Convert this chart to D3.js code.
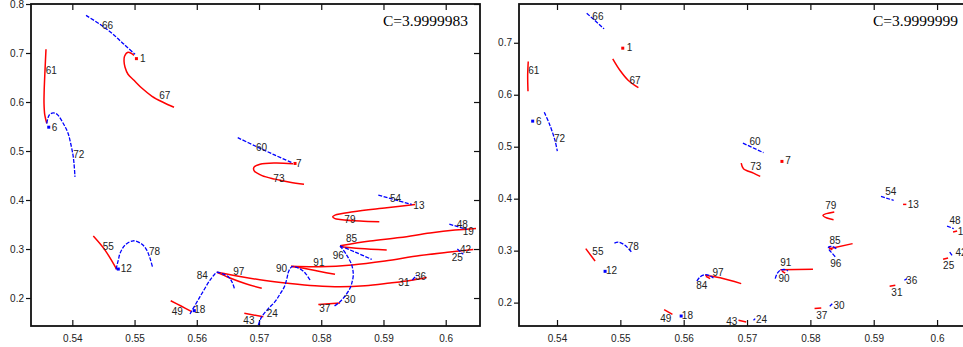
<!DOCTYPE html>
<html><head><meta charset="utf-8">
<script src="https://cdn.jsdelivr.net/npm/d3@7"></script>
<style>body{margin:0;background:#fff}svg{display:block}</style>
</head><body>
<svg id="chart" width="963" height="347"></svg>
<script>
// ---------- data ----------
const xTickValues = [0.54, 0.55, 0.56, 0.57, 0.58, 0.59, 0.60];
const yTicksLeft = [0.2, 0.3, 0.4, 0.5, 0.6, 0.7, 0.8];
const yTicksRight = [0.2, 0.3, 0.4, 0.5, 0.6, 0.7];
const titles = ["C=3.9999983", "C=3.9999999"];

// left panel (C=3.9999983)
const leftRed = [
  [[0.54991,0.6953],[0.54895,0.7014],[0.54839,0.6933],[0.54831,0.6831],[0.54847,0.6708],[0.54895,0.6566],[0.54991,0.6443],[0.5512,0.628],[0.55281,0.6117],[0.55457,0.5995],[0.55634,0.5893]],
  [[0.53577,0.7075],[0.53561,0.6647],[0.53548,0.624],[0.53545,0.5975],[0.53558,0.573],[0.53589,0.5567]],
  [[0.57546,0.4742],[0.57257,0.4756],[0.57016,0.4731],[0.5692,0.467],[0.5692,0.4599],[0.57048,0.4497],[0.57257,0.4426],[0.57498,0.4364],[0.57723,0.4324]],
  [[0.54337,0.3264],[0.54525,0.2978],[0.54713,0.2585]],
  [[0.55581,0.1945],[0.55747,0.1837],[0.55919,0.1721]],
  [[0.56325,0.2524],[0.56534,0.2408],[0.56775,0.2296],[0.57044,0.2198]],
  [[0.56325,0.2524],[0.56695,0.2438],[0.57097,0.2357],[0.57498,0.2296],[0.579,0.2249],[0.58302,0.2228],[0.58703,0.2249],[0.59105,0.2306],[0.59427,0.2357],[0.59695,0.2418]],
  [[0.56764,0.1688],[0.57069,0.1619]],
  [[0.57514,0.2642],[0.57739,0.2601],[0.5798,0.254],[0.58221,0.2483]],
  [[0.57514,0.2646],[0.5798,0.2638],[0.58495,0.2673],[0.59025,0.2754],[0.59587,0.2866],[0.60069,0.2938],[0.60444,0.2989]],
  [[0.57953,0.1868],[0.58302,0.1898]],
  [[0.58302,0.3066],[0.58784,0.3162],[0.59266,0.3233],[0.59748,0.3325],[0.6015,0.3386],[0.60487,0.3421]],
  [[0.58302,0.3046],[0.58623,0.3009],[0.59052,0.2978]],
  [[0.59507,0.391],[0.59052,0.3841],[0.58515,0.3759],[0.58221,0.3692],[0.58184,0.3657],[0.58221,0.362],[0.58302,0.3604],[0.58623,0.357],[0.58933,0.3555]]
];
const leftBlue = [
  [[0.5422,0.7768],[0.54445,0.7585],[0.54638,0.7401],[0.54831,0.7177],[0.55008,0.6973]],
  [[0.53589,0.5561],[0.53614,0.5695],[0.53642,0.5751],[0.53695,0.5777],[0.53754,0.5751],[0.53855,0.5561],[0.53931,0.5363],[0.53974,0.5153],[0.54011,0.4915],[0.54027,0.4746],[0.54043,0.4473]],
  [[0.56658,0.5272],[0.56963,0.5088],[0.57257,0.4915],[0.57546,0.4752]],
  [[0.54702,0.2585],[0.54739,0.2775],[0.54767,0.2911],[0.54847,0.308],[0.5498,0.3168],[0.55115,0.3101],[0.55196,0.2978],[0.55249,0.2809],[0.55292,0.2618]],
  [[0.55891,0.1674],[0.56052,0.2027],[0.56213,0.2367],[0.56277,0.2469],[0.5632,0.2524],[0.56406,0.2499],[0.56507,0.2434],[0.56566,0.2326],[0.56603,0.2198]],
  [[0.56989,0.145],[0.57044,0.1619],[0.57145,0.1776],[0.57257,0.1925],[0.57338,0.2082],[0.57407,0.223],[0.5745,0.2408],[0.57474,0.2536],[0.57526,0.2638],[0.57595,0.2632],[0.57686,0.2571],[0.57755,0.2489],[0.5782,0.2367]],
  [[0.58302,0.3066],[0.58409,0.2876],[0.5849,0.2673],[0.58515,0.2469],[0.58495,0.2326],[0.58462,0.2198],[0.58382,0.2041],[0.58302,0.1925],[0.58194,0.1823]],
  [[0.58302,0.3066],[0.58543,0.2938],[0.58811,0.2789]],
  [[0.58917,0.4099],[0.59454,0.391]],
  [[0.60058,0.3508],[0.60338,0.34]],
  [[0.60187,0.2999],[0.60283,0.2891]],
  [[0.59464,0.2367],[0.59534,0.2469]]
];
const leftRedDots = [[0.5503,0.6885],[0.57579,0.4746]];
const leftBlueDots = [[0.53621,0.5486],[0.54739,0.2591],[0.5596,0.1742]];
const leftLabels = [
  ["66",0.54477,0.7497],["1",0.55088,0.681],["67",0.55398,0.6056],["61",0.53573,0.6566],["6",0.53669,0.541],
  ["72",0.54016,0.4848],["60",0.56952,0.5002],["7",0.57595,0.4664],["73",0.5723,0.4371],["55",0.54489,0.2978],
  ["12",0.54778,0.2536],["78",0.55233,0.2876],["49",0.55597,0.1653],["18",0.5596,0.17],["84",0.55999,0.2381],
  ["97",0.56587,0.2469],["43",0.56748,0.147],["24",0.57124,0.1619],["90",0.57273,0.2536],["91",0.57873,0.2658],
  ["37",0.57969,0.1721],["30",0.58371,0.1904],["96",0.58184,0.2801],["85",0.58398,0.3141],["79",0.58371,0.3523],
  ["54",0.59105,0.3963],["13",0.5948,0.3814],["48",0.60177,0.3421],["19",0.60273,0.3278],["42",0.6023,0.2911],
  ["25",0.60097,0.276],["31",0.59239,0.2251],["36",0.59507,0.2367]
];

// right panel (C=3.9999999)
const rightRed = [
  [[0.5488,0.6692],[0.54996,0.6467],[0.55127,0.6275],[0.55285,0.6135]],
  [[0.53546,0.664],[0.53537,0.6371],[0.53542,0.6069]],
  [[0.56908,0.4685],[0.56944,0.4577],[0.57102,0.4492],[0.57208,0.4429]],
  [[0.54454,0.3038],[0.54601,0.28]],
  [[0.55691,0.1865],[0.55822,0.1775]],
  [[0.56339,0.2525],[0.56576,0.2477],[0.56908,0.2365]],
  [[0.5635,0.2506],[0.56418,0.2462]],
  [[0.56865,0.166],[0.56987,0.1627]],
  [[0.57524,0.2631],[0.58041,0.264]],
  [[0.57551,0.2608],[0.57603,0.2569]],
  [[0.58066,0.1885],[0.58172,0.1896]],
  [[0.58298,0.3038],[0.58667,0.3135]],
  [[0.58287,0.3069],[0.58346,0.3015]],
  [[0.58377,0.3742],[0.58199,0.3679],[0.58262,0.3627],[0.58366,0.3596]],
  [[0.59463,0.389],[0.59515,0.389]],
  [[0.60253,0.3358],[0.60317,0.3377]],
  [[0.60095,0.2833],[0.60174,0.2858]],
  [[0.59251,0.2313],[0.59341,0.2333]]
];
const rightBlue = [
  [[0.54469,0.7569],[0.54743,0.7269]],
  [[0.53799,0.5665],[0.53889,0.541],[0.53968,0.5121],[0.54005,0.4915]],
  [[0.56935,0.5069],[0.5726,0.4885]],
  [[0.54906,0.3146],[0.54969,0.3165],[0.55075,0.3102],[0.5519,0.2954]],
  [[0.56208,0.2415],[0.5626,0.2496],[0.56339,0.2538],[0.56402,0.2525],[0.5647,0.2473]],
  [[0.57445,0.2462],[0.57477,0.2563],[0.57524,0.2621],[0.57603,0.2635],[0.57646,0.2608]],
  [[0.58409,0.3038],[0.58341,0.3083],[0.58287,0.3069],[0.58298,0.3015],[0.58346,0.2948],[0.58409,0.2858]],
  [[0.59115,0.4044],[0.59315,0.3967]],
  [[0.60158,0.3473],[0.60263,0.3423]],
  [[0.602,0.2973],[0.60237,0.291]],
  [[0.59484,0.2429],[0.59526,0.2462]],
  [[0.58306,0.1929],[0.58346,0.1977]],
  [[0.57102,0.166],[0.57129,0.1692]]
];
const rightRedDots = [[0.55038,0.6896],[0.57551,0.4717]];
const rightBlueDots = [[0.53616,0.5492],[0.54759,0.2602],[0.5596,0.1742]];
const rightLabels = [
  ["66",0.54558,0.7429],["1",0.55101,0.6833],["67",0.55143,0.6198],["61",0.53546,0.6404],["6",0.53668,0.541],
  ["72",0.53953,0.5089],["60",0.57039,0.5025],["7",0.57603,0.466],["73",0.5705,0.4544],["55",0.54558,0.291],
  ["12",0.54774,0.2544],["78",0.55117,0.3006],["49",0.55628,0.1627],["18",0.55971,0.1679],["84",0.56197,0.2256],
  ["97",0.56454,0.2512],["43",0.56671,0.1563],["24",0.5714,0.1608],["91",0.57524,0.2704],["90",0.57497,0.2396],
  ["85",0.58303,0.3135],["96",0.58314,0.2685],["79",0.58235,0.3794],["54",0.59183,0.4064],["13",0.59536,0.3819],
  ["48",0.60195,0.3519],["19",0.60326,0.3294],["42",0.6029,0.289],["25",0.60095,0.2654],["36",0.59511,0.2352],
  ["31",0.59278,0.2121],["30",0.58366,0.1885],["37",0.58093,0.1692]
];

// ---------- drawing ----------
const svg = d3.select("#chart");
const panels = [
  {left:31, right:480, top:4, bottom:326, xd:[0.53336,0.60551], yd:[0.1429,0.8], yTicks:yTicksLeft,
   red:leftRed, blue:leftBlue, rDots:leftRedDots, bDots:leftBlueDots, labels:leftLabels, title:titles[0], titleX:468},
  {left:519, right:970, top:4, bottom:326, xd:[0.534,0.6052], yd:[0.155,0.7746], yTicks:yTicksRight,
   red:rightRed, blue:rightBlue, rDots:rightRedDots, bDots:rightBlueDots, labels:rightLabels, title:titles[1], titleX:958}
];

panels.forEach((p, i) => {
  const x = d3.scaleLinear().domain(p.xd).range([p.left, p.right]);
  const y = d3.scaleLinear().domain(p.yd).range([p.bottom, p.top]);
  const g = svg.append("g");
  const clipId = "clip" + i;
  svg.append("defs").append("clipPath").attr("id", clipId)
    .append("rect").attr("x", p.left).attr("y", p.top).attr("width", p.right - p.left).attr("height", p.bottom - p.top);

  // axes (ticks)
  const fmt = d => d3.format(".2~f")(d);
  g.append("g").attr("transform", `translate(0,${p.bottom})`)
    .call(d3.axisBottom(x).tickValues(xTickValues).tickSize(-6).tickPadding(9).tickFormat(fmt));
  g.append("g").attr("transform", `translate(0,${p.top})`)
    .call(d3.axisTop(x).tickValues(xTickValues).tickSize(-6).tickFormat(""));
  g.append("g").attr("transform", `translate(${p.left},0)`)
    .call(d3.axisLeft(y).tickValues(p.yTicks).tickSize(5).tickPadding(2).tickFormat(d3.format(".1f")));
  g.append("g").attr("transform", `translate(${p.right},0)`)
    .call(d3.axisRight(y).tickValues(p.yTicks).tickSize(-6).tickFormat(""));
  g.selectAll(".domain").remove();
  g.selectAll(".tick line").attr("stroke", "#111").attr("stroke-width", 1.2);
  g.selectAll(".tick text").attr("fill", "#222").style("font-family", "'Liberation Sans', Arial, sans-serif").style("font-size", "10px");

  // frame
  g.append("rect").attr("x", p.left).attr("y", p.top).attr("width", p.right - p.left).attr("height", p.bottom - p.top)
    .attr("fill", "none").attr("stroke", "#111").attr("stroke-width", 1.8);

  const plot = g.append("g").attr("clip-path", `url(#${clipId})`);
  const line = d3.line().x(d => x(d[0])).y(d => y(d[1])).curve(d3.curveCatmullRom.alpha(0.5));

  plot.selectAll("path.red").data(p.red).join("path").attr("class", "red")
    .attr("d", line).attr("fill", "none").attr("stroke", "#ff0000").attr("stroke-width", 1.5);
  plot.selectAll("path.blue").data(p.blue).join("path").attr("class", "blue")
    .attr("d", line).attr("fill", "none").attr("stroke", "#0000ff").attr("stroke-width", 1.3)
    .attr("stroke-dasharray", "4,1.5");
  plot.selectAll("rect.rd").data(p.rDots).join("rect").attr("class", "rd")
    .attr("x", d => x(d[0]) - 1.5).attr("y", d => y(d[1]) - 1.5).attr("width", 3).attr("height", 3).attr("fill", "#ff0000");
  plot.selectAll("rect.bd").data(p.bDots).join("rect").attr("class", "bd")
    .attr("x", d => x(d[0]) - 1.5).attr("y", d => y(d[1]) - 1.5).attr("width", 3).attr("height", 3).attr("fill", "#0000ff");

  g.selectAll("text.lab").data(p.labels).join("text").attr("class", "lab")
    .attr("x", d => x(d[1])).attr("y", d => y(d[2]))
    .attr("fill", "#222").style("font-family", "'Liberation Sans', Arial, sans-serif").style("font-size", "10px")
    .text(d => d[0]);

  g.append("text").attr("x", p.titleX).attr("y", 26).attr("text-anchor", "end")
    .style("font-family", "'Liberation Serif', 'Times New Roman', serif").style("font-size", "15.5px")
    .attr("fill", "#000").text(p.title);
});
</script>
</body></html>
